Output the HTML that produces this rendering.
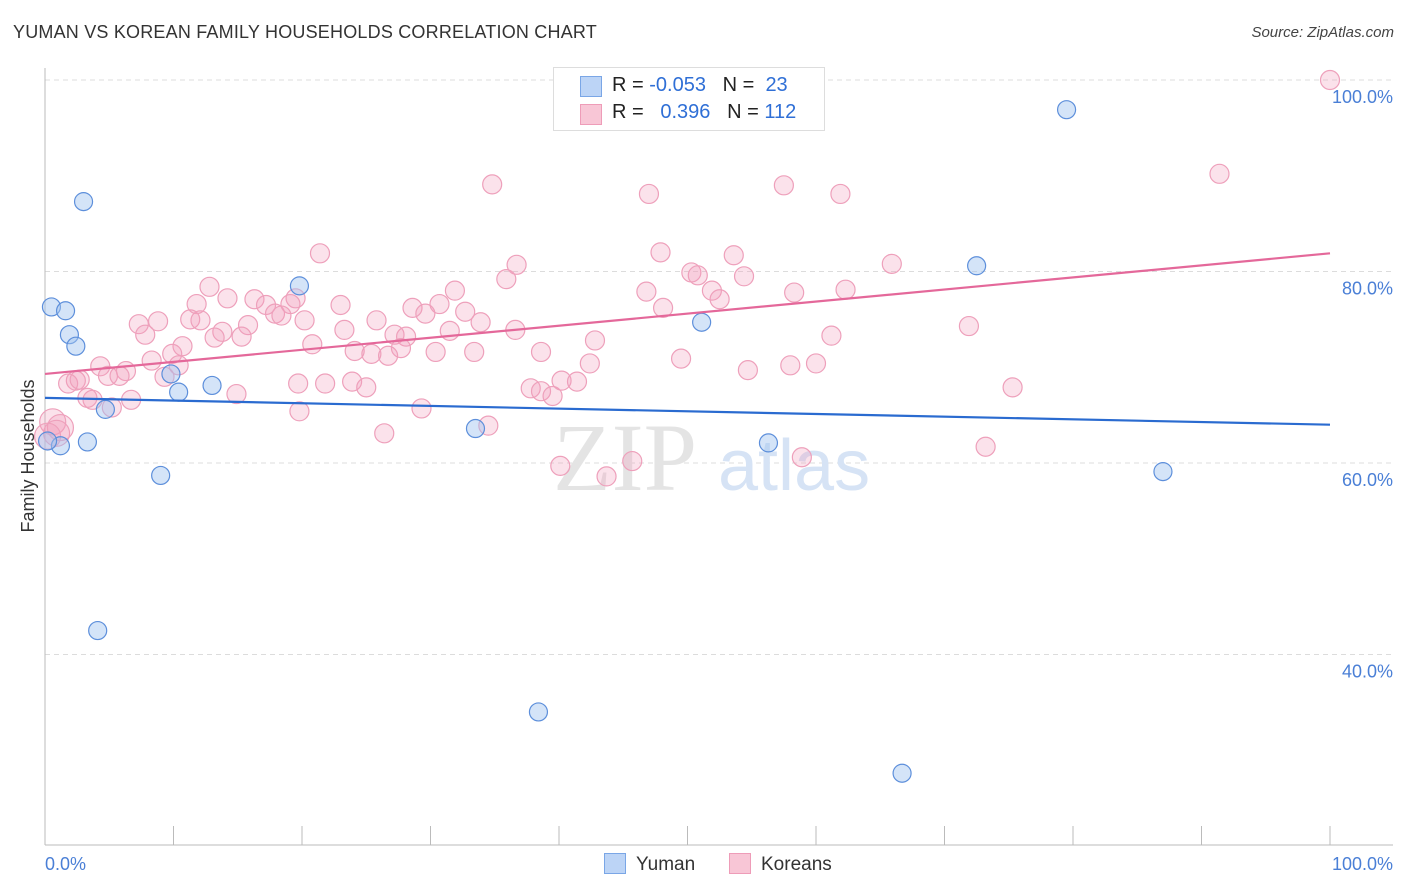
<!DOCTYPE html>
<html><head><meta charset="utf-8"><style>
body{margin:0;background:#fff;font-family:"Liberation Sans",sans-serif;}
#wrap{position:relative;width:1406px;height:892px;overflow:hidden;}
.t{position:absolute;white-space:nowrap;}
</style></head><body>
<div id="wrap">
<div class="t" style="left:13px;top:22px;font-size:18px;color:#333;letter-spacing:0.2px">YUMAN VS KOREAN FAMILY HOUSEHOLDS CORRELATION CHART</div>
<div class="t" style="right:12px;top:24px;font-size:15px;color:#444;font-style:italic">Source: ZipAtlas.com</div>
<svg id="svg" width="1406" height="892" style="position:absolute;left:0;top:0"></svg>
</div>
<script>
const xTickLabels=["0.0%","100.0%"];
const yTicks=[40,60,80,100];
const yumanX=[0.5,1.6,1.9,2.4,3.0,3.3,1.2,0.2,4.7,4.1,9.0,9.8,10.4,13.0,19.8,33.5,38.4,51.1,56.3,66.7,72.5,79.5,87.0];
const yumanY=[76.3,75.9,73.4,72.2,87.3,62.2,61.8,62.3,65.6,42.5,58.7,69.3,67.4,68.1,78.5,63.6,34.0,74.7,62.1,27.6,80.6,96.9,59.1];
const koreanX=[100,91.4,34.8,47.0,57.5,61.9,21.4,47.9,53.6,36.7,65.9,50.3,50.8,54.4,35.9,12.8,46.8,51.9,58.3,62.3,14.2,16.3,19.5,52.5,11.8,17.2,19.1,30.7,28.6,23.0,31.9,32.7,29.6,8.8,7.3,11.3,12.1,17.9,18.4,20.2,25.8,15.8,33.9,48.1,71.9,36.6,23.3,13.8,7.8,13.2,15.3,27.2,28.1,31.5,42.8,61.2,10.7,20.8,24.1,25.4,27.7,30.4,33.4,38.6,26.7,9.9,8.3,10.4,4.3,6.3,42.4,49.5,58.0,60.0,54.7,4.9,5.8,9.3,2.4,1.8,2.7,21.8,19.7,23.9,25.0,37.8,38.6,39.5,40.2,41.4,75.3,14.9,3.7,3.3,6.7,5.2,19.8,29.3,34.5,26.4,0.6,1.2,0.9,0.2,73.2,58.9,45.7,40.1,43.7];
const koreanY=[100,90.2,89.1,88.1,89.0,88.1,81.9,82.0,81.7,80.7,80.8,79.9,79.6,79.5,79.2,78.4,77.9,78.0,77.8,78.1,77.2,77.1,77.2,77.1,76.6,76.5,76.6,76.6,76.2,76.5,78.0,75.8,75.6,74.8,74.5,75.0,74.9,75.6,75.4,74.9,74.9,74.4,74.7,76.2,74.3,73.9,73.9,73.7,73.4,73.1,73.2,73.4,73.2,73.8,72.8,73.3,72.2,72.4,71.7,71.4,72.0,71.6,71.6,71.6,71.2,71.4,70.7,70.2,70.1,69.6,70.4,70.9,70.2,70.4,69.7,69.1,69.1,69.0,68.6,68.3,68.7,68.3,68.3,68.5,67.9,67.8,67.5,67.0,68.6,68.5,67.9,67.2,66.6,66.8,66.6,65.8,65.4,65.7,63.9,63.1,64.3,63.7,63.1,62.8,61.7,60.6,60.2,59.7,58.6];
const blueTrend=[66.8,64.0];
const pinkTrend=[69.3,81.9];

const NS="http://www.w3.org/2000/svg";
const svg=document.getElementById('svg');
const X0=45,X1=1330,YT=80,YS=9.575;
const xs=v=>X0+(X1-X0)*v/100;
const ys=v=>YT+(100-v)*YS;
function mk(tag,attrs,parent){const e=document.createElementNS(NS,tag);for(const k in attrs)e.setAttribute(k,attrs[k]);(parent||svg).appendChild(e);return e;}

// gridlines
yTicks.forEach(v=>{
  const g=mk('line',{x1:X0,x2:1393,y1:ys(v),y2:ys(v),stroke:'#dcdcdc','stroke-dasharray':'5,4','stroke-width':1});
  
  
  const t=mk('text',{x:1393,y:ys(v)+23,'text-anchor':'end','font-size':18,fill:'#4a7fd6','font-family':'Liberation Sans, sans-serif'});
  t.textContent=v.toFixed(1)+'%';
  
  
});
// axes
const ya=mk('line',{x1:X0,x2:X0,y1:68,y2:845,stroke:'#bbb','stroke-width':1});


const xa=mk('line',{x1:X0,x2:1393,y1:845,y2:845,stroke:'#bbb','stroke-width':1});


for(let i=0;i<=10;i++){
  const tk=mk('line',{x1:xs(i*10),x2:xs(i*10),y1:826,y2:845,stroke:'#bbb','stroke-width':1});
  
  
}
// watermark
const wm=mk('text',{x:553,y:490,'font-size':96,fill:'#e4e4e4','font-family':'Liberation Serif, serif'});
wm.textContent='ZIP';


const wm2=mk('text',{x:718,y:490,'font-size':72,fill:'#d6e3f5','font-family':'Liberation Sans, sans-serif'});
wm2.textContent='atlas';



// points
koreanX.forEach((x,i)=>{
  const c=mk('circle',{cx:xs(x),cy:ys(koreanY[i]),r:(x<1.5&&koreanY[i]<65)?13:9.5,fill:'rgba(243,160,188,0.3)',stroke:'#eea0bb','stroke-width':1.2});
  
  
});
yumanX.forEach((x,i)=>{
  const c=mk('circle',{cx:xs(x),cy:ys(yumanY[i]),r:9,fill:'rgba(160,195,240,0.45)',stroke:'#5d8fdb','stroke-width':1.2});
  
  
});
const bl=mk('line',{x1:xs(0),x2:xs(100),y1:ys(blueTrend[0]),y2:ys(blueTrend[1]),stroke:'#2a6bd0','stroke-width':2.2});


const pl=mk('line',{x1:xs(0),x2:xs(100),y1:ys(pinkTrend[0]),y2:ys(pinkTrend[1]),stroke:'#e4689a','stroke-width':2.2});



// x tick labels
const xl0=mk('text',{x:45,y:870,'font-size':18,fill:'#4a7fd6','font-family':'Liberation Sans, sans-serif'});
xl0.textContent=xTickLabels[0];


const xl1=mk('text',{x:1393,y:870,'text-anchor':'end','font-size':18,fill:'#4a7fd6','font-family':'Liberation Sans, sans-serif'});
xl1.textContent=xTickLabels[1];


// y title
const yt=mk('text',{x:34,y:456,'text-anchor':'middle','font-size':18,fill:'#333',transform:'rotate(-90 34 456)','font-family':'Liberation Sans, sans-serif'});
yt.textContent='Family Households';


</script>
<div class="t" style="left:553px;top:67px;width:270px;height:62px;border:1px solid #ddd;background:#fff;">
 <div class="t" style="left:26px;top:8px;width:20px;height:19px;background:#bcd4f6;border:1px solid #7aa6e6"></div>
 <div class="t" style="left:26px;top:36px;width:20px;height:19px;background:#f8c6d6;border:1px solid #ee9cb8"></div>
 <div class="t" style="left:58px;top:6px;font-size:20px;color:#222">R = <span style="color:#2f6fd6">-0.053</span>&nbsp;&nbsp;&nbsp;N = &nbsp;<span style="color:#2f6fd6">23</span></div>
 <div class="t" style="left:58px;top:33px;font-size:20px;color:#222">R = &nbsp;&nbsp;<span style="color:#2f6fd6">0.396</span>&nbsp;&nbsp;&nbsp;N = <span style="color:#2f6fd6">112</span></div>
</div>
<div class="t" style="left:604px;top:853px;font-size:19px;color:#333"><span style="display:inline-block;width:20px;height:19px;background:#bcd4f6;border:1px solid #7aa6e6;vertical-align:-4px;margin-right:10px"></span>Yuman</div>
<div class="t" style="left:729px;top:853px;font-size:19px;color:#333"><span style="display:inline-block;width:20px;height:19px;background:#f8c6d6;border:1px solid #ee9cb8;vertical-align:-4px;margin-right:10px"></span>Koreans</div>
</body></html>
